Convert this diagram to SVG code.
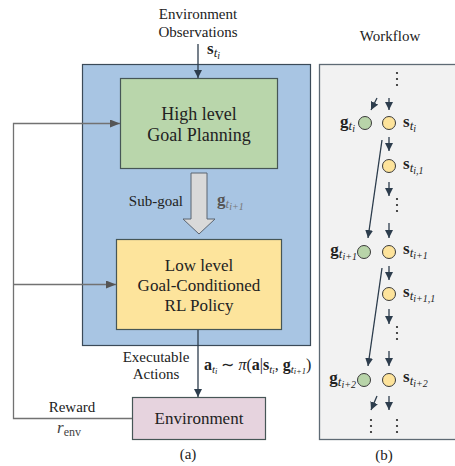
<svg xmlns="http://www.w3.org/2000/svg" width="455" height="466" viewBox="0 0 455 466">
<style>
text{font-family:"Liberation Serif","Times New Roman",serif;fill:#222}
.t15{font-size:15px}
.box{font-size:18px}
.lab{font-size:15px}
.m{font-size:17px}
.b{font-weight:bold}
.i{font-style:italic}
.s1{font-size:13px;font-style:italic}
.s2{font-size:10px;font-style:italic}
.dk{stroke:#2d3d4d;stroke-width:1.3;fill:none}
.gy{stroke:#727272;stroke-width:1.3;fill:none}
.gc{fill:#b8d4a9;stroke:#3a3a3a;stroke-width:1}
.yc{fill:#fde39b;stroke:#3a3a3a;stroke-width:1}
.dot{fill:#222}
</style>
<defs>
<marker id="ad" markerUnits="userSpaceOnUse" markerWidth="9" markerHeight="8" refX="8" refY="4" orient="auto"><path d="M0,0 L8,4 L0,8 z" fill="#2d3d4d"/></marker>
<marker id="ag" markerUnits="userSpaceOnUse" markerWidth="11" markerHeight="8" refX="10" refY="4" orient="auto"><path d="M0,0 L10,4 L0,8 z" fill="#555"/></marker>
</defs>
<rect width="455" height="466" fill="#fff"/>
<!-- panel a -->
<g id="module">
<rect x="82.5" y="64.5" width="228" height="281" fill="#a8c5e3" stroke="#3b4a58" stroke-width="1.2"/>
</g>
<g id="high-level">
<rect x="120.5" y="78.5" width="157" height="90" fill="#b9d6ab" stroke="#465656" stroke-width="1.2"/>
<text class="box" x="199" y="120" text-anchor="middle">High level</text>
<text class="box" x="199" y="141" text-anchor="middle">Goal Planning</text>
</g>
<g id="low-level">
<rect x="116.5" y="239.5" width="165" height="90" fill="#fde49c" stroke="#465656" stroke-width="1.2"/>
<text class="box" x="199" y="271" text-anchor="middle" style="font-size:17px">Low level</text>
<text class="box" x="199" y="291" text-anchor="middle" style="font-size:17px">Goal-Conditioned</text>
<text class="box" x="199" y="311" text-anchor="middle" style="font-size:17px">RL Policy</text>
</g>
<g id="environment">
<rect x="132.5" y="397.5" width="133" height="42" fill="#e6d3de" stroke="#465656" stroke-width="1.2"/>
<text x="199" y="424" text-anchor="middle" style="font-size:17px">Environment</text>
</g>
<g id="subgoal-arrow">
<path d="M191,173 H207 V219 H215 L199,234 L183,219 H191 Z" fill="#d9d9d9" stroke="#5a6470" stroke-width="1"/>
<text class="lab" x="183" y="206" text-anchor="end">Sub-goal</text>
<text class="m" x="217" y="205" style="fill:#555"><tspan class="b">g</tspan><tspan class="s1" style="fill:#777" dy="3">t</tspan><tspan class="s2" style="fill:#777" dy="2">i+1</tspan></text>
</g>
<g id="labels-a">
<text class="t15" x="198" y="19" text-anchor="middle">Environment</text>
<text class="t15" x="198" y="37" text-anchor="middle">Observations</text>
<text class="m" x="207" y="54"><tspan class="b">s</tspan><tspan class="s1" dy="3">t</tspan><tspan class="s2" dy="2">i</tspan></text>
<text class="t15" x="156" y="362" text-anchor="middle">Executable</text>
<text class="t15" x="156" y="379" text-anchor="middle">Actions</text>
<text x="204" y="370" style="font-size:16px"><tspan class="b">a</tspan><tspan class="i" style="font-size:11px" dy="2.5">t</tspan><tspan class="i" style="font-size:8.5px" dy="1.5">i</tspan><tspan dy="-4"> ∼ </tspan><tspan class="i">π</tspan><tspan>(</tspan><tspan class="b">a</tspan><tspan>|</tspan><tspan class="b">s</tspan><tspan class="i" style="font-size:11px" dy="2.5">t</tspan><tspan class="i" style="font-size:8.5px" dy="1.5">i</tspan><tspan dy="-4">, </tspan><tspan class="b">g</tspan><tspan class="i" style="font-size:11px" dy="2.5">t</tspan><tspan class="i" style="font-size:8.5px" dy="1.5">i+1</tspan><tspan dy="-4">)</tspan></text>
<text class="t15" x="72" y="412" text-anchor="middle">Reward</text>
<text x="57" y="433" style="font-size:17px;fill:#444"><tspan class="i">r</tspan><tspan style="font-size:12px" dy="3">env</tspan></text>
<text class="t15" x="188" y="459" text-anchor="middle">(a)</text>
</g>
<!-- panel b -->
<g id="workflow-panel">
<rect x="319.5" y="64.5" width="150" height="375" fill="#f2f2f2" stroke="#5e6a74" stroke-width="1.3"/>
<text class="t15" x="390" y="41" text-anchor="middle">Workflow</text>
<text class="t15" x="384" y="460" text-anchor="middle">(b)</text>
</g>
<g id="row1">
<circle class="gc" cx="365" cy="123" r="6.5"/>
<circle class="yc" cx="389" cy="123" r="6.5"/>
<text class="m" x="355" y="127" text-anchor="end"><tspan class="b">g</tspan><tspan class="s1" dy="3">t</tspan><tspan class="s2" dy="2">i</tspan></text>
<text class="m" x="403" y="127"><tspan class="b">s</tspan><tspan class="s1" dy="3">t</tspan><tspan class="s2" dy="2">i</tspan></text>
</g>
<g id="row1-sub">
<circle class="yc" cx="389" cy="166" r="6.5"/>
<text class="m" x="403" y="169"><tspan class="b">s</tspan><tspan class="s1" dy="3">t</tspan><tspan class="s2" dy="2">i,1</tspan></text>
</g>
<g id="row2">
<circle class="gc" cx="364" cy="252" r="6.5"/>
<circle class="yc" cx="389" cy="252" r="6.5"/>
<text class="m" x="357" y="255" text-anchor="end"><tspan class="b">g</tspan><tspan class="s1" dy="3">t</tspan><tspan class="s2" dy="2">i+1</tspan></text>
<text class="m" x="403" y="254"><tspan class="b">s</tspan><tspan class="s1" dy="3">t</tspan><tspan class="s2" dy="2">i+1</tspan></text>
</g>
<g id="row2-sub">
<circle class="yc" cx="389" cy="294" r="6.5"/>
<text class="m" x="403" y="297"><tspan class="b">s</tspan><tspan class="s1" dy="3">t</tspan><tspan class="s2" dy="2">i+1,1</tspan></text>
</g>
<g id="row3">
<circle class="gc" cx="364" cy="380" r="6.5"/>
<circle class="yc" cx="389" cy="380" r="6.5"/>
<text class="m" x="356" y="383" text-anchor="end"><tspan class="b">g</tspan><tspan class="s1" dy="3">t</tspan><tspan class="s2" dy="2">i+2</tspan></text>
<text class="m" x="403" y="382"><tspan class="b">s</tspan><tspan class="s1" dy="3">t</tspan><tspan class="s2" dy="2">i+2</tspan></text>
</g>
<g id="ellipses">
<circle class="dot" cx="397" cy="73" r="1.1"/><circle class="dot" cx="397" cy="79" r="1.1"/><circle class="dot" cx="397" cy="85" r="1.1"/>
<circle class="dot" cx="397" cy="199" r="1.1"/><circle class="dot" cx="397" cy="205" r="1.1"/><circle class="dot" cx="397" cy="211" r="1.1"/>
<circle class="dot" cx="397" cy="327" r="1.1"/><circle class="dot" cx="397" cy="333" r="1.1"/><circle class="dot" cx="397" cy="339" r="1.1"/>
<circle class="dot" cx="371" cy="420" r="1.1"/><circle class="dot" cx="371" cy="426" r="1.1"/><circle class="dot" cx="371" cy="432" r="1.1"/>
<circle class="dot" cx="397" cy="420" r="1.1"/><circle class="dot" cx="397" cy="426" r="1.1"/><circle class="dot" cx="397" cy="432" r="1.1"/>
</g>
<g id="connectors">
<line class="dk" x1="198" y1="44" x2="198" y2="78" marker-end="url(#ad)"/>
<line class="dk" x1="198" y1="330" x2="198" y2="397" marker-end="url(#ad)"/>
<polyline class="gy" points="132,418.5 13.5,418.5 13.5,123.5 120,123.5" marker-end="url(#ag)"/>
<line class="gy" x1="13.5" y1="284.5" x2="116" y2="284.5" marker-end="url(#ag)"/>
<line class="dk" x1="377" y1="98" x2="371" y2="110" marker-end="url(#ad)"/>
<line class="dk" x1="389" y1="98" x2="389" y2="110" marker-end="url(#ad)"/>
<line class="dk" x1="389" y1="137" x2="389" y2="151" marker-end="url(#ad)"/>
<line class="dk" x1="382" y1="140" x2="368" y2="238" marker-end="url(#ad)"/>
<line class="dk" x1="389" y1="182" x2="389" y2="196" marker-end="url(#ad)"/>
<line class="dk" x1="389" y1="223" x2="389" y2="238" marker-end="url(#ad)"/>
<line class="dk" x1="389" y1="266" x2="389" y2="280" marker-end="url(#ad)"/>
<line class="dk" x1="382" y1="268" x2="368" y2="366" marker-end="url(#ad)"/>
<line class="dk" x1="389" y1="309" x2="389" y2="324" marker-end="url(#ad)"/>
<line class="dk" x1="389" y1="351" x2="389" y2="366" marker-end="url(#ad)"/>
<line class="dk" x1="377" y1="396" x2="371" y2="410" marker-end="url(#ad)"/>
<line class="dk" x1="389" y1="396" x2="389" y2="410" marker-end="url(#ad)"/>
</g>
</svg>
